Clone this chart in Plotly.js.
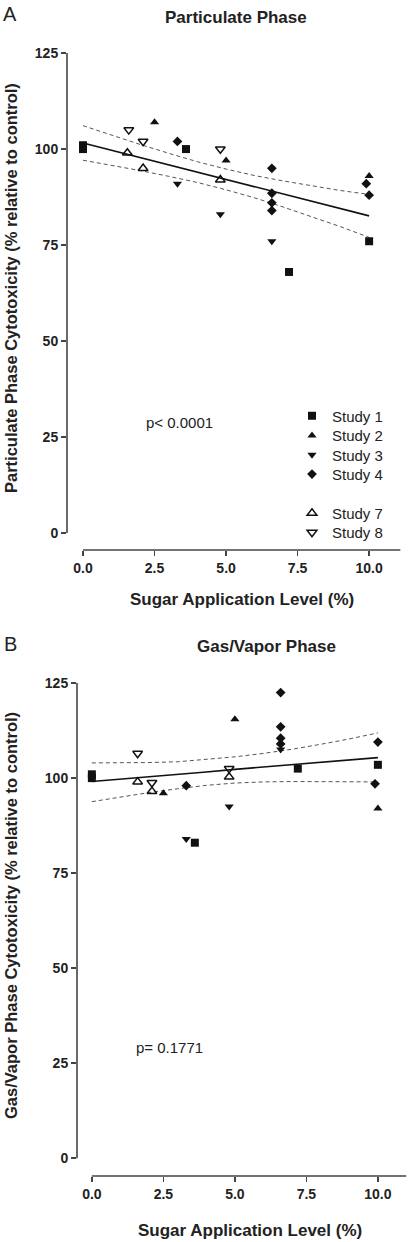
<!DOCTYPE html>
<html><head><meta charset="utf-8">
<script src="https://cdn.plot.ly/plotly-3.0.1.min.js"></script>
<style>html,body{margin:0;padding:0;background:#fff;} #chart{width:409px;height:1242px;}</style>
</head><body><div id="chart"></div>
<script>
// ---------- DATA ----------
const studyNames = ['Study 1', 'Study 2', 'Study 3', 'Study 4', 'Study 7', 'Study 8'];

// Panel A: Particulate phase (x = sugar %, y = % relative to control)
const partX1 = [0, 0, 3.6, 7.2, 10];            const partY1 = [100, 101, 100, 68, 76];
const partX2 = [2.5, 5.0, 10];                  const partY2 = [107, 97, 93];
const partX3 = [3.3, 4.8, 6.6];                 const partY3 = [91, 83, 76];
const partX4 = [3.3, 6.6, 6.6, 6.6, 6.6, 9.9, 10]; const partY4 = [102, 95, 88.5, 86, 84, 91, 88];
const partX7 = [1.55, 2.1, 4.8];                const partY7 = [99, 95, 92];
const partX8 = [1.6, 2.1, 4.8];                 const partY8 = [105, 102, 100];

// Panel B: Gas/Vapor phase
const gasX1 = [0, 0, 3.6, 7.2, 10];             const gasY1 = [100, 101, 83, 102.5, 103.5];
const gasX2 = [2.5, 5.0, 10];                   const gasY2 = [96, 115.5, 92];
const gasX3 = [3.3, 4.8, 6.6];                  const gasY3 = [84, 92.5, 107.5];
const gasX4 = [3.3, 6.6, 6.6, 6.6, 6.6, 9.9, 10]; const gasY4 = [98, 122.5, 113.5, 110.5, 109, 98.5, 109.5];
const gasX7 = [1.6, 2.1, 4.8];                  const gasY7 = [99, 96.5, 100.3];
const gasX8 = [1.6, 2.1, 4.8];                  const gasY8 = [106.5, 98.8, 102.5];

// Regression line and 95% confidence band
const fitX      = [0, 1, 2, 3, 4, 5, 6, 7, 8, 9, 10];
const partFit   = [101.6, 99.7, 97.8, 95.9, 94.0, 92.1, 90.2, 88.3, 86.4, 84.5, 82.6];
const partUpper = [106.1, 103.6, 101.2, 98.9, 96.7, 94.8, 93.1, 91.7, 90.4, 89.2, 88.2];
const partLower = [97.1, 95.8, 94.4, 92.9, 91.3, 89.4, 87.3, 84.9, 82.4, 79.8, 77.0];
const gasFit    = [99.1, 99.7, 100.4, 101.0, 101.6, 102.3, 102.9, 103.5, 104.1, 104.8, 105.4];
const gasUpper  = [104.0, 104.0, 104.1, 104.3, 104.9, 105.6, 106.5, 107.6, 108.9, 110.3, 111.9];
const gasLower  = [93.8, 95.1, 96.2, 97.2, 98.1, 98.7, 99.0, 99.1, 99.1, 99.1, 99.0];

const xTickVals = [0, 2.5, 5, 7.5, 10];
const xTickText = ['0.0', '2.5', '5.0', '7.5', '10.0'];
const yTickVals = [0, 25, 50, 75, 100, 125];
const yTickText = ['0', '25', '50', '75', '100', '125'];

const pTextA = 'p< 0.0001';
const pTextB = 'p= 0.1771';

// ---------- STYLE ----------
const W = 409, H = 1242;
const FONT = 'Liberation Sans, Arial, Helvetica, sans-serif';
const TXT = '#222';
const AX = '#444';
const markerStyles = [
  {symbol: 'square', size: 8, color: '#111'},
  {symbol: 'triangle-up', size: 8, color: '#111'},
  {symbol: 'triangle-down', size: 8, color: '#111'},
  {symbol: 'diamond', size: 7.5, color: '#111'},
  {symbol: 'triangle-up-open', size: 8.5, color: '#111', line: {width: 1.5, color: '#111'}},
  {symbol: 'triangle-down-open', size: 8.5, color: '#111', line: {width: 1.5, color: '#111'}}
];
const legendRowsPx = [416, 435.7, 455, 474.3, 513.3, 532.7];

const partXs = [partX1, partX2, partX3, partX4, partX7, partX8];
const partYs = [partY1, partY2, partY3, partY4, partY7, partY8];
const gasXs = [gasX1, gasX2, gasX3, gasX4, gasX7, gasX8];
const gasYs = [gasY1, gasY2, gasY3, gasY4, gasY7, gasY8];

const px = v => v / W;
const py = v => 1 - v / H;

const traces = [];
function lineTraces(xa, ya, fit, up, lo) {
  traces.push({x: fitX, y: up, xaxis: xa, yaxis: ya, mode: 'lines', showlegend: false, hoverinfo: 'skip',
               line: {color: '#555', width: 1, dash: '4px,3px'}});
  traces.push({x: fitX, y: lo, xaxis: xa, yaxis: ya, mode: 'lines', showlegend: false, hoverinfo: 'skip',
               line: {color: '#555', width: 1, dash: '4px,3px'}});
  traces.push({x: fitX, y: fit, xaxis: xa, yaxis: ya, mode: 'lines', showlegend: false, hoverinfo: 'skip',
               line: {color: '#111', width: 1.6}});
}
lineTraces('x', 'y', partFit, partUpper, partLower);
lineTraces('x2', 'y2', gasFit, gasUpper, gasLower);

const legends = {};
studyNames.forEach((name, i) => {
  const lg = i === 0 ? 'legend' : 'legend' + (i + 1);
  traces.push({x: partXs[i], y: partYs[i], xaxis: 'x', yaxis: 'y', mode: 'markers', name: name,
               legend: lg, showlegend: true, marker: markerStyles[i], cliponaxis: false});
  traces.push({x: gasXs[i], y: gasYs[i], xaxis: 'x2', yaxis: 'y2', mode: 'markers', name: name,
               showlegend: false, marker: markerStyles[i], cliponaxis: false});
  legends[lg] = {x: px(292), xanchor: 'left', y: py(legendRowsPx[i]), yanchor: 'middle',
                 font: {family: FONT, size: 15, color: TXT}, bgcolor: 'rgba(0,0,0,0)', borderwidth: 0};
});

function xAxis(domain, range, anchor) {
  return {domain: domain, range: range, anchor: anchor, tickvals: xTickVals, ticktext: xTickText,
          ticks: 'outside', ticklen: 5, tickwidth: 1.3, tickcolor: AX, showgrid: false, zeroline: false,
          showline: false, tickfont: {family: FONT, size: 14, weight: 'bold', color: TXT}, fixedrange: true};
}
function yAxis(domain, range, anchor) {
  return {domain: domain, range: range, anchor: anchor, tickvals: yTickVals, ticktext: yTickText,
          ticks: 'outside', ticklen: 5, tickwidth: 1.3, tickcolor: AX, showgrid: false, zeroline: false,
          showline: false, tickfont: {family: FONT, size: 14, weight: 'bold', color: TXT}, fixedrange: true};
}

function note(text, x, y, size, bold, extra) {
  return Object.assign({text: text, xref: 'paper', yref: 'paper', x: px(x), y: py(y), showarrow: false,
    xanchor: 'center', yanchor: 'middle', font: {size: size, weight: bold ? 'bold' : 'normal', color: TXT}}, extra || {});
}

const layout = Object.assign({
  width: W, height: H, margin: {l: 0, r: 0, t: 0, b: 0},
  paper_bgcolor: '#fff', plot_bgcolor: '#fff',
  font: {family: FONT, color: TXT},
  xaxis: xAxis([px(67), px(400.6)], [-0.56, 11.1], 'y'),
  yaxis: yAxis([py(550), py(45.4)], [-4.4, 127], 'x'),
  xaxis2: xAxis([px(77), px(406.5)], [-0.52, 11.0], 'y2'),
  yaxis2: yAxis([py(1176), py(675.5)], [-4.7, 127], 'x2'),
  shapes: [
    {type: 'line', xref: 'x domain', yref: 'y', x0: 0, x1: 0, y0: 0, y1: 125, line: {color: AX, width: 1.6}},
    {type: 'line', xref: 'x', yref: 'y domain', x0: 0, x1: 11.1, y0: 0, y1: 0, line: {color: AX, width: 1.6}},
    {type: 'line', xref: 'x2 domain', yref: 'y2', x0: 0, x1: 0, y0: 0, y1: 125, line: {color: AX, width: 1.6}},
    {type: 'line', xref: 'x2', yref: 'y2 domain', x0: 0, x1: 11.0, y0: 0, y1: 0, line: {color: AX, width: 1.6}}
  ],
  annotations: [
    note('A', 10, 14, 20, false),
    note('Particulate Phase', 236, 18, 17, true),
    note('B', 10, 644, 20, false),
    note('Gas/Vapor Phase', 266, 646, 17, true),
    note('Sugar Application Level (%)', 241.5, 600, 17, true),
    note('Sugar Application Level (%)', 250, 1230, 17, true),
    note('Particulate Phase Cytotoxicity (% relative to control)', 11, 288, 16.5, true, {textangle: -90}),
    note('Gas/Vapor Phase Cytotoxicity (% relative to control)', 11, 916, 16.5, true, {textangle: -90}),
    {text: pTextA, xref: 'x', yref: 'y', x: 3.36, y: 28.9, showarrow: false, xanchor: 'center', yanchor: 'middle',
     font: {size: 15, color: TXT}},
    {text: pTextB, xref: 'x2', yref: 'y2', x: 2.73, y: 29.2, showarrow: false, xanchor: 'center', yanchor: 'middle',
     font: {size: 15, color: TXT}}
  ]
}, legends);

Plotly.newPlot('chart', traces, layout, {staticPlot: true, displayModeBar: false});
</script>
</body></html>
